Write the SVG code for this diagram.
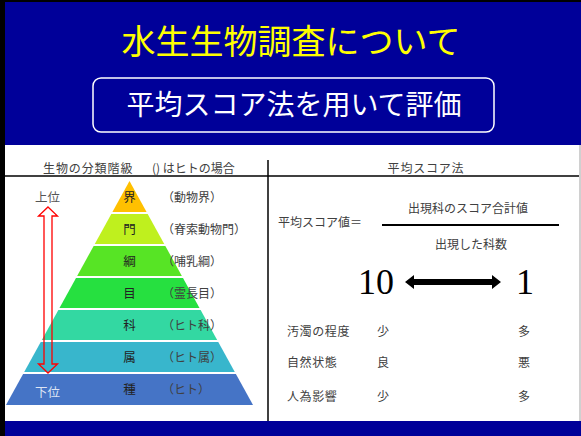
<svg xmlns="http://www.w3.org/2000/svg" width="581" height="436" viewBox="0 0 581 436">
<style>
.jp{font-family:"Noto Sans CJK JP","Noto Sans",sans-serif;}
.g{fill:#404040;font-size:12px;}
.lab{fill:#222;font-size:12.5px;text-anchor:middle;}
.sub{fill:#404040;font-size:12px;}
.num{font-family:"Liberation Serif",serif;font-size:36px;fill:#000;text-anchor:middle;}
</style>
<rect x="0" y="0" width="581" height="436" fill="#000"/>
<rect x="5" y="2" width="576" height="434" fill="#000099"/>
<rect x="5" y="145" width="574" height="276" fill="#fff"/>
<rect x="579" y="145" width="2" height="276" fill="#d0d0d0"/>
<g id="title">
<text class="jp" x="291" y="54" font-size="34" fill="#ffff00" text-anchor="middle">水生生物調査について</text>
</g>
<g id="subtitle">
<rect x="93" y="78" width="401" height="54" rx="8" fill="none" stroke="#fff" stroke-width="1.5"/>
<text class="jp" x="294" y="115" font-size="28" fill="#fff" text-anchor="middle">平均スコア法を用いて評価</text>
</g>
<g id="frame-lines">
<line x1="5" y1="176" x2="579" y2="176" stroke="#000" stroke-width="1.5"/>
<line x1="268" y1="160" x2="268" y2="421" stroke="#000" stroke-width="1.5"/>
</g>
<g id="left-header">
<text class="jp g" x="43" y="173" font-size="12.5" letter-spacing="0.9">生物の分類階級</text>
<text class="jp g" x="152" y="173" font-size="10">() はヒトの場合</text>
</g>
<g id="pyramid">
<polygon points="129.5,181 147.14,213 111.86,213" fill="#ffc000"/>
<polygon points="111.86,213 147.14,213 164.79,245 94.21,245" fill="#bff01e"/>
<polygon points="94.21,245 164.79,245 182.43,277 76.57,277" fill="#57e425"/>
<polygon points="76.57,277 182.43,277 200.07,309 58.93,309" fill="#26e040"/>
<polygon points="58.93,309 200.07,309 217.71,341 41.29,341" fill="#33d8a2"/>
<polygon points="41.29,341 217.71,341 235.36,373 23.64,373" fill="#38b6cc"/>
<polygon points="23.64,373 235.36,373 253,405 6,405" fill="#4574c6"/>
<g stroke="#fff" stroke-width="2">
<line x1="6" y1="213" x2="260" y2="213"/>
<line x1="6" y1="245" x2="260" y2="245"/>
<line x1="6" y1="277" x2="260" y2="277"/>
<line x1="6" y1="309" x2="260" y2="309"/>
<line x1="6" y1="341" x2="260" y2="341"/>
<line x1="6" y1="373" x2="260" y2="373"/>
</g>
</g>
<g id="rank-labels">
<text class="jp lab" x="129.5" y="202">界</text>
<text class="jp lab" x="129.5" y="234">門</text>
<text class="jp lab" x="129.5" y="266">綱</text>
<text class="jp lab" x="129.5" y="298">目</text>
<text class="jp lab" x="129.5" y="330">科</text>
<text class="jp lab" x="129.5" y="362">属</text>
<text class="jp lab" x="129.5" y="394">種</text>
</g>
<g id="human-labels">
<text class="jp g" x="162" y="202">（動物界）</text>
<text class="jp g" x="162" y="234">（脊索動物門）</text>
<text class="jp g" x="162" y="266">（哺乳綱）</text>
<text class="jp g" x="162" y="298">（霊長目）</text>
<text class="jp g" x="162" y="330">（ヒト科）</text>
<text class="jp g" x="162" y="362">（ヒト属）</text>
<text class="jp g" x="162" y="394">（ヒト）</text>
</g>
<g id="rank-arrow">
<text class="jp" x="35" y="202" font-size="12.5" fill="#555">上位</text>
<text class="jp" x="35" y="397" font-size="12.5" fill="#dde4f4">下位</text>
</g>
<g id="connectors">
<path d="M48,207 L57.5,216 L52,216 L52,364 L57.5,364 L48,373 L38.5,364 L44,364 L44,216 L38.5,216 Z" fill="none" stroke="#ff0000" stroke-width="1.3"/>
<path d="M405,282 L414,275 L414,279 L492,279 L492,275 L501,282 L492,289 L492,285 L414,285 L414,289 Z" fill="#000"/>
</g>
<g id="right-header">
<text class="jp g" x="426" y="173" text-anchor="middle" letter-spacing="0.8">平均スコア法</text>
</g>
<g id="formula">
<text class="jp g" x="278" y="227" font-size="12.5">平均スコア値＝</text>
<text class="jp g" x="468" y="213" text-anchor="middle" font-size="13">出現科のスコア合計値</text>
<line x1="382" y1="225" x2="559" y2="225" stroke="#000" stroke-width="2"/>
<text class="jp g" x="471" y="249" text-anchor="middle" font-size="13">出現した科数</text>
</g>
<g id="scale">
<text class="num" x="376" y="294">10</text>
<text class="num" x="525" y="294">1</text>
</g>
<g id="table">
<text class="jp sub" x="287" y="336" letter-spacing="0.6">汚濁の程度</text>
<text class="jp sub" x="377" y="336">少</text>
<text class="jp sub" x="518" y="336">多</text>
<text class="jp sub" x="287" y="367" letter-spacing="0.6">自然状態</text>
<text class="jp sub" x="377" y="367">良</text>
<text class="jp sub" x="518" y="367">悪</text>
<text class="jp sub" x="287" y="401" letter-spacing="0.6">人為影響</text>
<text class="jp sub" x="377" y="401">少</text>
<text class="jp sub" x="518" y="401">多</text>
</g>
</svg>
